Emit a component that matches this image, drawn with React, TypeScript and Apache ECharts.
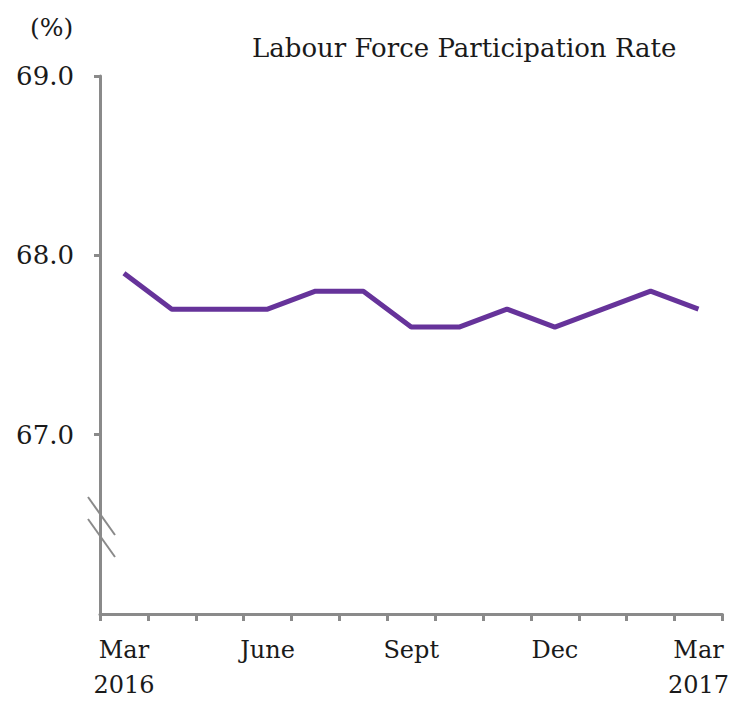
import React, { useEffect, useRef } from "react";
import * as echarts from "echarts";

const categories = ["Mar\n2016", "Apr", "May", "June", "July", "Aug", "Sept", "Oct", "Nov", "Dec", "Jan", "Feb", "Mar\n2017"];
const rateValues = [67.9, 67.7, 67.7, 67.7, 67.8, 67.8, 67.6, 67.6, 67.7, 67.6, 67.7, 67.8, 67.7];
const titleText = "Labour Force Participation Rate";
const unitText = "(%)";

export default function App() {
  const ref = useRef<HTMLDivElement>(null);
  useEffect(() => {
    if (!ref.current) return;
    const chart = echarts.init(ref.current, null, { renderer: "svg" });
    const serif = "DejaVu Serif";
    chart.setOption({
      animation: false,
      backgroundColor: "#ffffff",
      title: {
        text: titleText,
        left: 247,
        top: 30,
        textStyle: { fontFamily: serif, fontSize: 26, fontWeight: "normal", color: "#1a1a1a" },
      },
      grid: { left: 100, width: 623, top: 76, height: 545, containLabel: false },
      xAxis: {
        type: "category",
        data: categories,
        boundaryGap: true,
        axisLine: { lineStyle: { color: "#8a8a8a", width: 3 } },
        axisTick: { show: true, length: 7, interval: 0, lineStyle: { color: "#8a8a8a", width: 3 } },
        axisLabel: {
          interval: 2,
          margin: 18,
          fontFamily: serif,
          fontSize: 24,
          lineHeight: 35,
          color: "#1a1a1a",
        },
      },
      yAxis: {
        type: "value",
        min: 66,
        max: 69,
        interval: 1,
        splitLine: { show: false },
        axisLine: { show: true, lineStyle: { color: "#8a8a8a", width: 3 } },
        axisTick: { show: true, length: 6, lineStyle: { color: "#8a8a8a", width: 3 } },
        axisLabel: {
          showMinLabel: false,
          margin: 26,
          fontFamily: serif,
          fontSize: 26,
          color: "#1a1a1a",
          formatter: (v: number) => (v === 66 ? "" : v.toFixed(1)),
        },
      },
      series: [
        {
          type: "line",
          data: rateValues,
          symbol: "none",
          lineStyle: { color: "#66339a", width: 5 },
        },
      ],
      graphic: [
        {
          type: "text",
          left: 30,
          top: 15,
          style: { text: unitText, fontFamily: serif, fontSize: 25, fill: "#1a1a1a" },
        },
        {
          type: "line",
          shape: { x1: 88, y1: 497, x2: 115, y2: 535 },
          style: { stroke: "#8a8a8a", lineWidth: 2 },
        },
        {
          type: "line",
          shape: { x1: 88, y1: 519, x2: 115, y2: 557 },
          style: { stroke: "#8a8a8a", lineWidth: 2 },
        },
      ],
    });
    return () => chart.dispose();
  }, []);
  return <div ref={ref} style={{ position: "absolute", left: 0, top: 0, width: 732, height: 702 }} />;
}
